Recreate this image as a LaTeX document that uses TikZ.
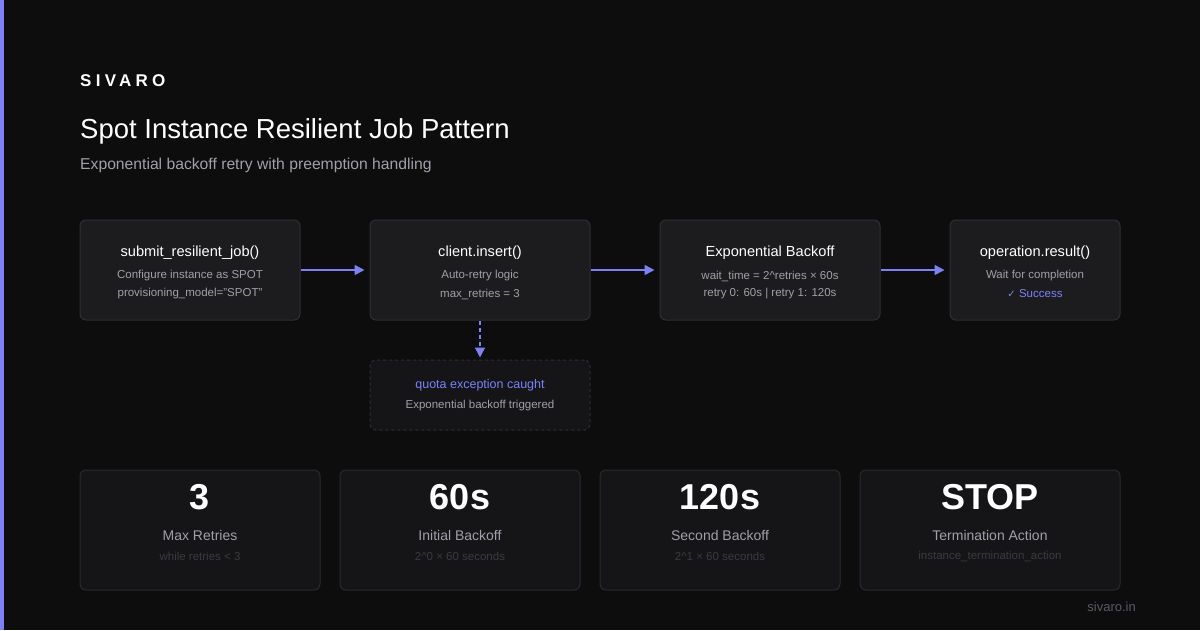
\documentclass[tikz,border=0pt]{standalone}
\usepackage{fontspec}
\usetikzlibrary{arrows.meta}
\setmainfont{Liberation Sans}
\newfontfamily\symfont{DejaVu Sans}
\definecolor{bg}{HTML}{0D0D0E}
\definecolor{accent}{HTML}{7C82F5}
\definecolor{boxfill}{HTML}{1C1C1F}
\definecolor{boxline}{HTML}{2F2F34}
\definecolor{statfill}{HTML}{151518}
\definecolor{statline}{HTML}{2A2A2E}
\definecolor{subgray}{HTML}{A0A0A8}
\definecolor{dimgray}{HTML}{3A3A40}
\definecolor{footgray}{HTML}{5A5A62}
\begin{document}
\begin{tikzpicture}[x=1pt,y=-1pt,
  card/.style={draw=boxline,fill=boxfill,rounded corners=6pt,line width=1pt,inner sep=0pt},
  dcard/.style={draw=boxline,fill=statfill,rounded corners=6pt,line width=1pt,dashed,dash pattern=on 3pt off 3pt,inner sep=0pt},
  stat/.style={draw=statline,fill=statfill,rounded corners=6pt,line width=1pt,inner sep=0pt,minimum width=240pt,minimum height=120pt},
  ttl/.style={text=white,font=\fontsize{14.6}{17}\selectfont,inner sep=0pt},
  sub/.style={text=subgray,font=\fontsize{11.5}{13}\selectfont,inner sep=0pt},
  arr/.style={draw=accent,line width=1.6pt,-{Triangle[length=10pt,width=10pt]}},
  big/.style={text=white,font=\fontsize{36}{40}\selectfont\bfseries,inner sep=0pt},
  slabel/.style={text=subgray,font=\fontsize{14}{16}\selectfont,inner sep=0pt},
  ssub/.style={text=dimgray,font=\fontsize{11.5}{13}\selectfont,inner sep=0pt}
]
\useasboundingbox (0,0) rectangle (1200,630);
\fill[bg] (0,0) rectangle (1200,630);
\fill[accent] (0,0) rectangle (4,630);
\node[anchor=west,text=white,inner sep=0pt,font=\fontsize{17}{20}\selectfont\bfseries\addfontfeatures{LetterSpace=25}] (brand) at (80,81) {SIVARO};
\node[anchor=west,text=white,inner sep=0pt,font=\fontsize{27.5}{32}\selectfont] (title) at (80,131) {Spot Instance Resilient Job Pattern};
\node[anchor=west,text=subgray,inner sep=0pt,font=\fontsize{15.7}{19}\selectfont] (subtitle) at (80,165) {Exponential backoff retry with preemption handling};

\node[card,minimum width=220pt,minimum height=100pt] (b1) at (190,270) {};
\node[card,minimum width=220pt,minimum height=100pt] (b2) at (480,270) {};
\node[card,minimum width=220pt,minimum height=100pt] (b3) at (770,270) {};
\node[card,minimum width=170pt,minimum height=100pt] (b4) at (1035,270) {};
\node[dcard,minimum width=220pt,minimum height=70pt] (b5) at (480,395) {};

\node[ttl] (t1) at (190,253) {submit\_resilient\_job()};
\node[sub] (s1a) at (190,276) {Configure instance as SPOT};
\node[sub] (s1b) at (190,294) {provisioning\_model="SPOT"};
\node[ttl] (t2) at (480,253) {client.insert()};
\node[sub] (s2a) at (480,276) {Auto-retry logic};
\node[sub] (s2b) at (480,294) {max\_retries = 3};
\node[ttl] (t3) at (770,253) {Exponential Backoff};
\node[sub] (s3a) at (770,276) {wait\_time = 2\^{}retries × 60s};
\node[sub] (s3b) at (770,294) {retry 0: 60s | retry 1: 120s};
\node[ttl] (t4) at (1035,253) {operation.result()};
\node[sub] (s4a) at (1035,276) {Wait for completion};
\node[sub,text=accent] (s4b) at (1035,294) {{\symfont\fontsize{10}{12}\selectfont ✓} Success};
\node[sub,text=accent,font=\fontsize{12.5}{14}\selectfont] (t5) at (480,385) {quota exception caught};
\node[sub] (s5) at (480,406) {Exponential backoff triggered};

\draw[arr,shorten >=5pt] (b1.east) -- (b2.west);
\draw[arr,shorten >=5pt] (b2.east) -- (b3.west);
\draw[arr,shorten >=5pt] (b3.east) -- (b4.west);
\draw[arr,dashed,dash pattern=on 4pt off 3pt,shorten >=2pt] (b2.south) -- (b5.north);

\node[stat] (c1) at (200,530) {};
\node[stat] (c2) at (460,530) {};
\node[stat] (c3) at (720,530) {};
\node[stat,minimum width=260pt] (c4) at (990,530) {};
\node[big] (n1) at (200,497) {3};
\node[slabel] (l1) at (200,535) {Max Retries};
\node[ssub] (m1) at (200,556) {while retries < 3};
\node[big] (n2) at (460,497) {60s};
\node[slabel] (l2) at (460,535) {Initial Backoff};
\node[ssub] (m2) at (460,556) {2\^{}0 × 60 seconds};
\node[big] (n3) at (720,497) {120s};
\node[slabel] (l3) at (720,535) {Second Backoff};
\node[ssub] (m3) at (720,556) {2\^{}1 × 60 seconds};
\node[big] (n4) at (990,497) {STOP};
\node[slabel] (l4) at (990,535) {Termination Action};
\node[ssub] (m4) at (990,556) {instance\_termination\_action};

\node[anchor=east,text=footgray,inner sep=0pt,font=\fontsize{13}{15}\selectfont] (foot) at (1136,607) {sivaro.in};
\end{tikzpicture}
\end{document}
